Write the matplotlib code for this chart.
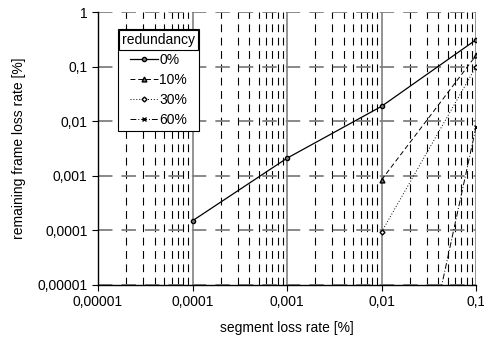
import matplotlib
matplotlib.use("Agg")
import matplotlib.pyplot as plt
from matplotlib.ticker import FixedLocator, LogLocator, NullFormatter

plt.rcParams['font.family'] = ['Liberation Sans', 'DejaVu Sans']

# segment loss rate [%]
seg_loss = [0.0001, 0.001, 0.01, 0.1]
# remaining frame loss rate [%] per redundancy
red_0 = [0.00015, 0.0021, 0.0187, 0.31]
x_10 = [0.01, 0.1]
red_10 = [0.00084, 0.16]
x_30 = [0.01, 0.1]
red_30 = [0.000093, 0.1]
x_60 = [0.01, 0.1]
red_60 = [8e-11, 0.0078]

tick_vals = [0.00001, 0.0001, 0.001, 0.01, 0.1, 1]
tick_labels = ['0,00001', '0,0001', '0,001', '0,01', '0,1', '1']

fig = plt.figure(figsize=(4.85, 3.41), dpi=100)
ax = fig.add_axes([98 / 485, 1 - 285 / 341, (476 - 98) / 485, (285 - 12) / 341])

ax.set_xscale('log')
ax.set_yscale('log')
ax.set_xlim(0.00001, 0.1)
ax.set_ylim(0.00001, 1)

# grid
ax.xaxis.set_major_locator(FixedLocator(tick_vals[:-1]))
ax.yaxis.set_major_locator(FixedLocator(tick_vals))
ax.xaxis.set_minor_locator(LogLocator(base=10, subs=range(2, 10)))
ax.xaxis.set_minor_formatter(NullFormatter())
ax.yaxis.set_minor_locator(FixedLocator([]))
ax.set_xticklabels(tick_labels[:-1])
ax.set_yticklabels(tick_labels)
ax.grid(True, which='major', axis='x', color='#808080', linestyle='-', linewidth=1.2)
ax.grid(True, which='minor', axis='x', color='black', linestyle=(0, (7, 5)), linewidth=0.8)
ax.grid(True, which='major', axis='y', color='#808080', linestyle=(0, (8, 5)), linewidth=1.3)
ax.set_axisbelow(True)

ax.tick_params(which='major', direction='out', length=4, labelsize=10, color='black')
ax.tick_params(which='minor', length=0)
for s in ['top', 'right']:
    ax.spines[s].set_visible(False)
for s in ['left', 'bottom']:
    ax.spines[s].set_linewidth(1.0)

ax.plot(seg_loss, red_0, color='black', linestyle='-', linewidth=0.9,
        marker='o', markersize=3, markerfacecolor='#808080', label='0%')
ax.plot(x_10, red_10, color='black', linestyle=(0, (5, 3)), linewidth=0.7,
        marker='^', markersize=3.5, markerfacecolor='#808080', label='10%')
ax.plot(x_30, red_30, color='black', linestyle=(0, (1, 2)), linewidth=0.7,
        marker='D', markersize=2.5, markerfacecolor='white', label='30%')
ax.plot(x_60, red_60, color='black', linestyle=(0, (6, 2, 1, 2)), linewidth=0.7,
        marker='x', markersize=3.5, label='60%')
ax.set_ylim(0.00001, 1)

leg = ax.legend(loc='upper left', bbox_to_anchor=(20 / 378, 1 - 17 / 273),
                title='redundancy', fontsize=10, title_fontsize=10,
                frameon=True, fancybox=False, framealpha=1, edgecolor='black',
                handlelength=2.0, handletextpad=0.1, borderpad=0.3,
                labelspacing=0.42, borderaxespad=0)
leg.get_frame().set_linewidth(0.8)
leg.get_title().set_bbox(dict(boxstyle='square,pad=0.2', facecolor='white',
                              edgecolor='black', linewidth=0.8))

ax.set_xlabel('segment loss rate [%]', fontsize=10, labelpad=8)
ax.set_ylabel('remaining frame loss rate [%]', fontsize=10, labelpad=8)

fig.savefig('out.png', dpi=100)
